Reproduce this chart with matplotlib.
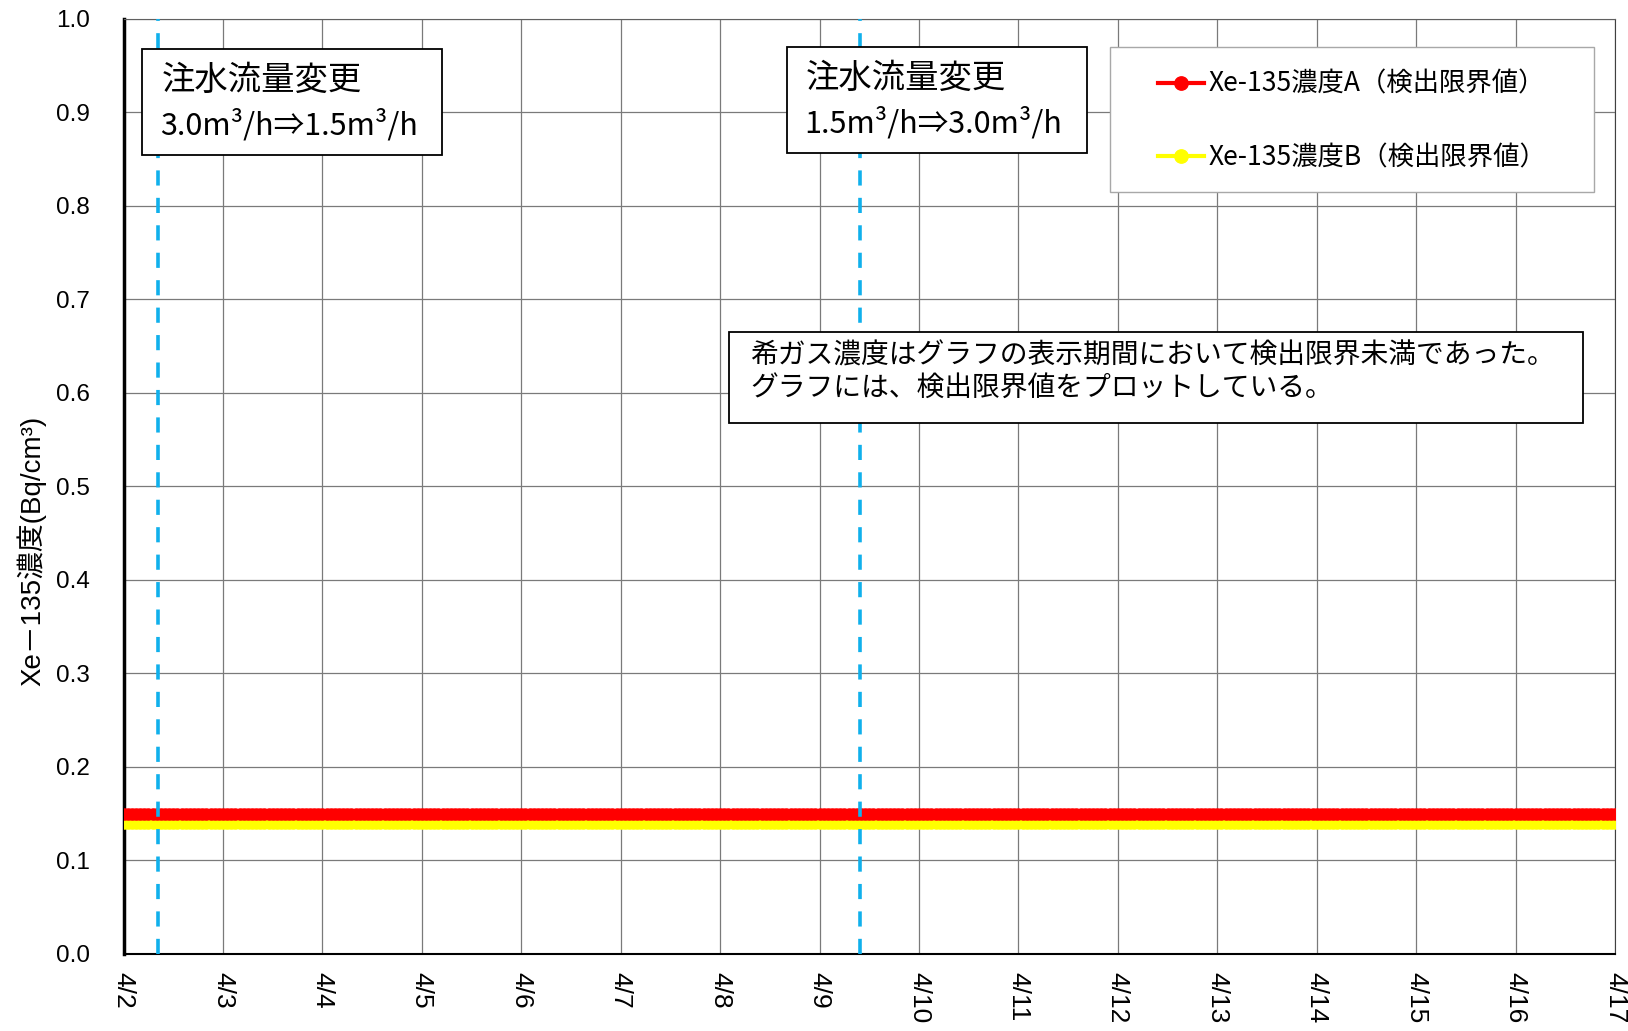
import matplotlib
matplotlib.use("Agg")
import matplotlib.pyplot as plt
import pandas as pd
from matplotlib.patches import Rectangle

plt.rcParams['font.family'] = ['Noto Sans CJK JP', 'DejaVu Sans']
LAT = ['Liberation Sans', 'Noto Sans CJK JP']

# sampling times (hourly) and detection-limit values
times = pd.date_range("2024-04-02 00:00", "2024-04-17 00:00", freq="h")
xe_a = [0.15] * len(times)
xe_b = [0.14] * len(times)
series_labels = ['Xe-135濃度A（検出限界値）', 'Xe-135濃度B（検出限界値）']

# injection flow changes
change_times = pd.to_datetime(["2024-04-02 08:20", "2024-04-09 09:50"])
change_labels = ["3.0m³/h⇒1.5m³/h", "1.5m³/h⇒3.0m³/h"]

day_ticks = pd.date_range("2024-04-02", "2024-04-17", freq="D")
day_labels = [f"{d.month}/{d.day}" for d in day_ticks]
y_ticks = [i / 10 for i in range(11)]

W, H = 1628, 1031
fig = plt.figure(figsize=(W / 100, H / 100), dpi=100)
ax = fig.add_axes([123.5 / W, 1 - 954 / H, (1615 - 123.5) / W, (954 - 18.7) / H])


def fx(x):
    return x / W


def fy(y):
    return 1 - y / H


ax.plot(times, xe_a, '-o', color='red', lw=3, ms=8, label=series_labels[0], zorder=4)
ax.plot(times, xe_b, '-o', color='yellow', lw=3, ms=8, label=series_labels[1], zorder=3)

for t in change_times:
    ax.axvline(t, color='#10b0ec', lw=2.6, ls=(0, (4.2, 3.4)), zorder=5)

ax.set_xlim(day_ticks[0], day_ticks[-1])
ax.set_ylim(0, 1.0)
ax.set_yticks(y_ticks)
ax.set_yticklabels([f"{v:.1f}" for v in y_ticks], fontsize=17.5, family=LAT)
ax.set_xticks(day_ticks)
ax.set_xticklabels(day_labels, rotation=-90, fontsize=19, family=LAT, va='top', ha='center')
ax.tick_params(axis='y', length=0, pad=24)
ax.tick_params(axis='x', length=0, pad=13)
ax.grid(True, color='#7a7a7a', lw=0.9, zorder=0)
ax.set_ylabel('Xe－135濃度(Bq/cm³)', fontsize=20, family=LAT)
ax.yaxis.set_label_coords((46 - 123.5) / 1491.5, (954 - 551) / 935.3)

ax.spines['left'].set_linewidth(2.5)
ax.spines['bottom'].set_linewidth(1.5)
ax.spines['top'].set_color('#606060')
ax.spines['right'].set_color('#404040')


def box(x0, y0, x1, y1, ec='black', lw=1.3):
    r = Rectangle((fx(x0), fy(y1)), fx(x1) - fx(x0), fy(y0) - fy(y1), transform=fig.transFigure,
                  fc='white', ec=ec, lw=lw, zorder=6, clip_on=False)
    ax.add_patch(r)


# flow change boxes
for (x0, y0, x1, y1, tx, h1, h2), lab in zip([(142, 49, 442, 155, 162, 80, 125),
                                              (787, 47, 1087, 153, 806, 78, 123)], change_labels):
    box(x0, y0, x1, y1)
    ax.text(fx(tx), fy(h1), '注水流量変更', transform=fig.transFigure, fontsize=24,
            va='center', ha='left', zorder=7)
    ax.text(fx(tx - 2), fy(h2), lab, transform=fig.transFigure, fontsize=22,
            va='center', ha='left', zorder=7)

# note box
box(729, 332, 1583, 423)
ax.text(fx(750), fy(356), '希ガス濃度はグラフの表示期間において検出限界未満であった。',
        transform=fig.transFigure, fontsize=20, va='center', ha='left', zorder=7)
ax.text(fx(750), fy(389), 'グラフには、検出限界値をプロットしている。',
        transform=fig.transFigure, fontsize=20, va='center', ha='left', zorder=7)

# legend
box(1110, 47, 1594, 192, ec='#a8a8a8', lw=1)
leg = ax.legend(loc='center left', bbox_to_anchor=(fx(1158), fy(121)),
                bbox_transform=fig.transFigure, fontsize=19, frameon=False,
                borderpad=0, labelspacing=1.75, handlelength=1.75, handletextpad=0.15,
                borderaxespad=0, markerscale=1.2)
leg.set_zorder(8)

fig.savefig("out.png", dpi=100)
